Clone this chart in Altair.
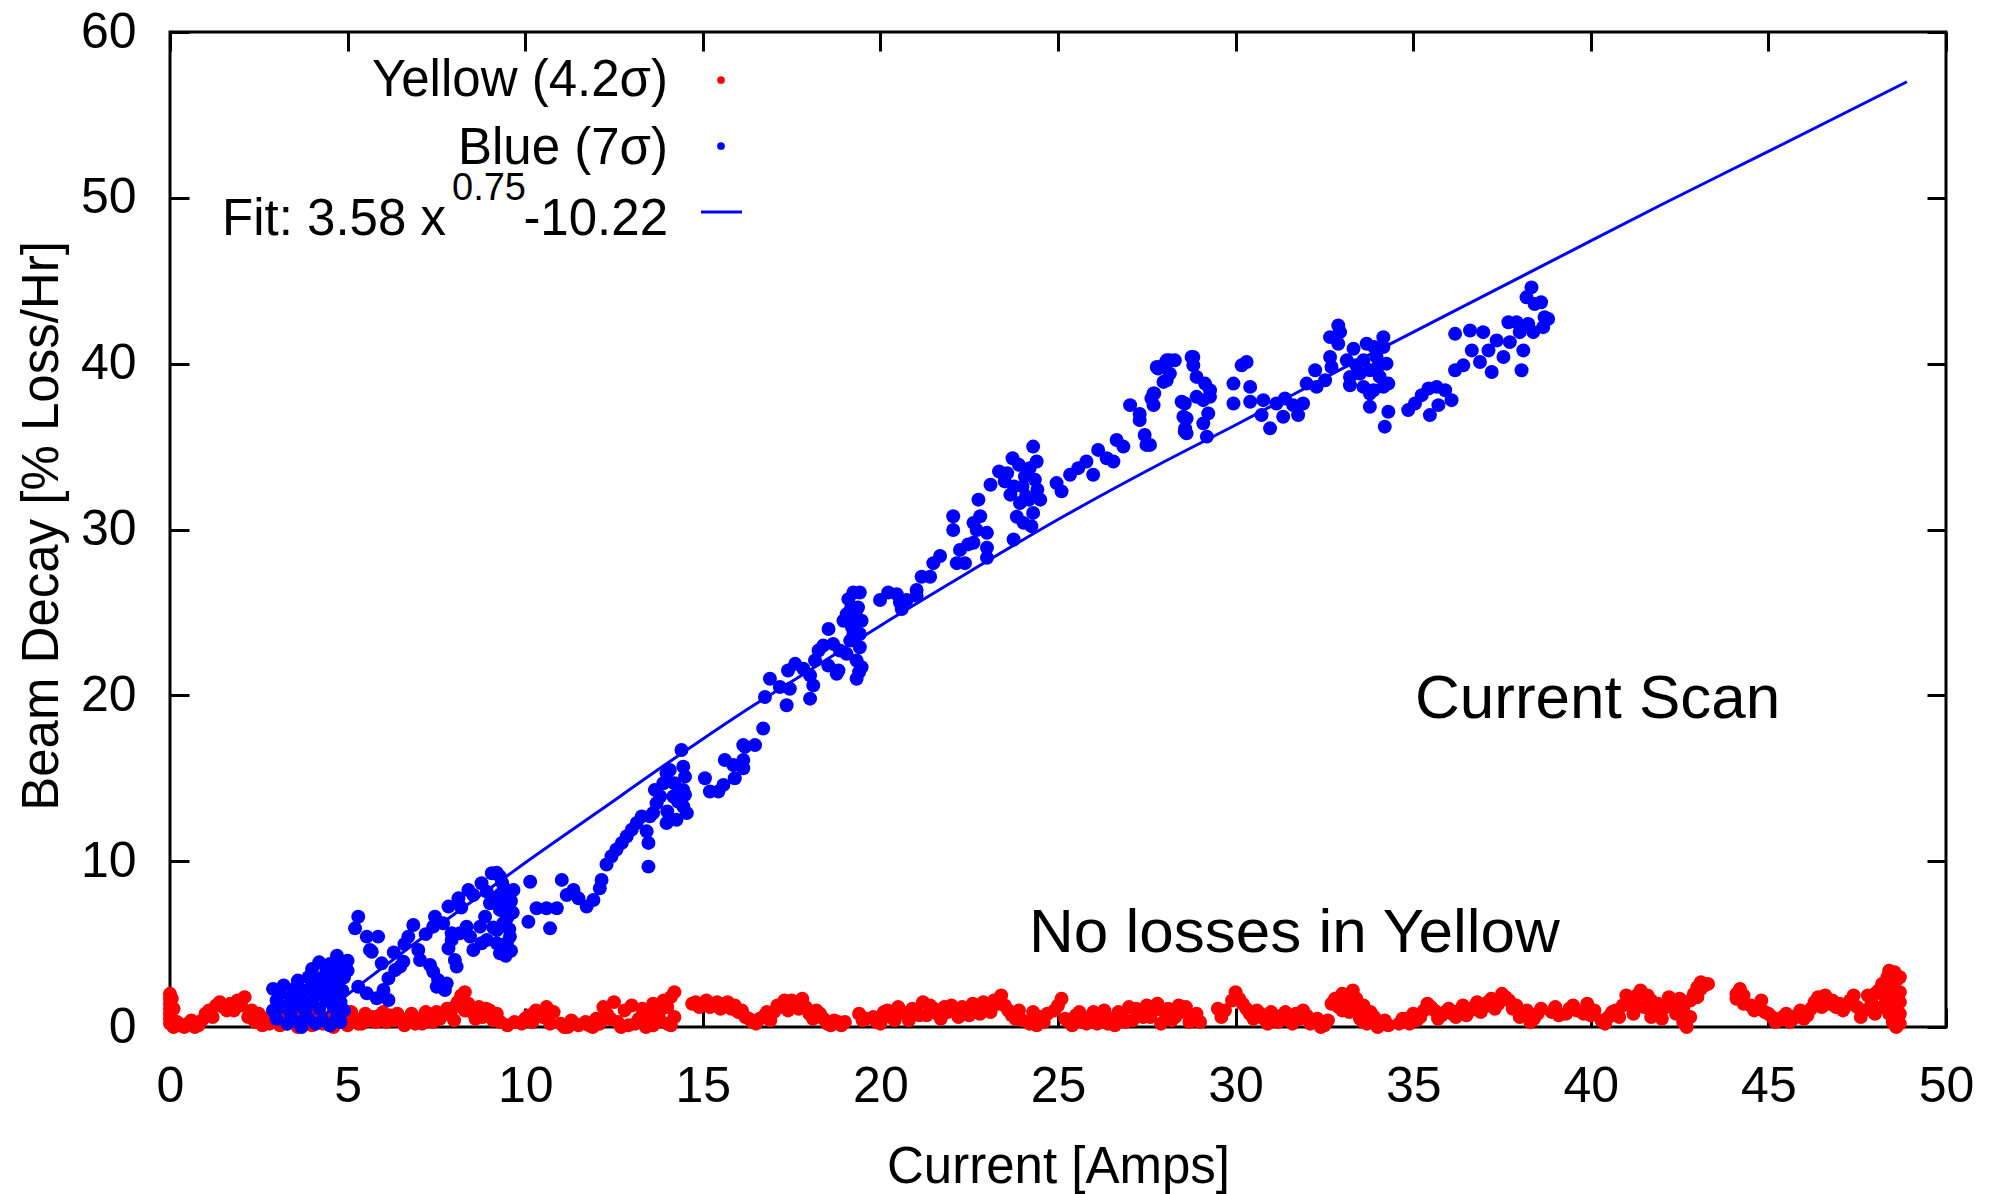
import altair as alt
import pandas as pd

W, H = 1776, 995
FONT = "Liberation Sans"

x_ticks = [0, 5, 10, 15, 20, 25, 30, 35, 40, 45, 50]
y_ticks = [0, 10, 20, 30, 40, 50, 60]

x_title = "Current [Amps]"
y_title = "Beam Decay [% Loss/Hr]"
legend_yellow = "Yellow (4.2σ)"
legend_blue = "Blue (7σ)"
legend_fit = ["Fit: 3.58 x", "0.75", "-10.22"]
note_scan = "Current Scan"
note_yellow = "No losses in Yellow"

# Yellow ring (drawn red): current, decay
red_pts = [
    (0.0, 0.2), (0.0, 0.8), (0.0, 1.4), (0.0, 2.0), (0.05, 1.7), (0.05, 0.5), (0.1, 1.1), (0.1, 0.0),
    (0.3, 0.1), (0.5, 0.2), (0.7, 0.0), (0.9, 0.4), (1.0, 0.8), (1.1, 1.0), (1.3, 1.3), (1.4, 1.5),
    (1.5, 1.2), (1.7, 1.4), (1.8, 1.0), (1.9, 1.6), (2.0, 1.3), (2.1, 1.8),
    (2.2, 0.6), (2.4, 0.3), (2.5, 0.8), (2.7, 0.5), (2.8, 0.2), (3.0, 0.4), (3.2, 0.7), (3.3, 0.2),
    (3.5, 0.5), (3.6, 0.0), (3.8, 0.3), (3.9, 0.8), (4.1, 0.5), (4.3, 0.2), (4.5, 0.6), (4.6, 0.0),
    (4.8, 0.3), (5.0, 0.1),
    (5.2, 0.5), (5.4, 0.2), (5.5, 0.8), (5.7, 0.6), (5.8, 0.3), (6.0, 0.9), (6.2, 0.7), (6.3, 0.4),
    (6.5, 0.5), (6.6, 0.1), (6.8, 0.8), (7.0, 0.5), (7.1, 0.2), (7.3, 0.6), (7.5, 0.9), (7.6, 0.5),
    (7.8, 1.1), (7.9, 0.7), (8.1, 1.5), (8.2, 1.9), (8.3, 2.1), (8.4, 1.4), (8.5, 0.9), (8.7, 1.2),
    (8.8, 0.6), (9.0, 1.0), (9.1, 0.4), (9.2, 0.8),
    (9.5, 0.1), (9.7, 0.3), (10.0, 0.5), (10.1, 0.7), (10.3, 1.0), (10.4, 0.8), (10.6, 1.2), (10.8, 0.9),
    (11.0, 0.2), (11.2, 0.0), (11.3, 0.4), (11.5, 0.1), (11.7, 0.3), (11.9, 0.0), (12.0, 0.5),
    (12.2, 1.2), (12.3, 0.8), (12.5, 1.5), (12.6, 0.3), (12.8, 1.0), (12.9, 0.1), (13.0, 1.3), (13.2, 0.5),
    (13.3, 1.1), (13.4, 0.0), (13.5, 0.8), (13.6, 1.4), (13.7, 0.3), (13.8, 1.0), (13.9, 1.6), (14.0, 0.2),
    (14.1, 1.8), (14.2, 2.1), (14.2, 0.6),
    (14.7, 1.4), (14.9, 1.2), (15.1, 1.6), (15.3, 1.3), (15.5, 1.1), (15.7, 1.5), (15.9, 1.3), (16.0, 0.9),
    (16.2, 0.6),
    (16.4, 0.3), (16.6, 0.5), (16.8, 0.9), (16.9, 0.4), (17.1, 1.3), (17.3, 1.6), (17.4, 1.0), (17.6, 1.4),
    (17.8, 1.7), (17.9, 1.2), (18.0, 0.8), (18.2, 1.0), (18.4, 0.5), (18.5, 0.2), (18.7, 0.4), (18.9, 0.1),
    (19.0, 0.3),
    (19.4, 0.8), (19.6, 0.5), (19.9, 0.3), (20.1, 0.9), (20.3, 0.6), (20.5, 1.2), (20.7, 0.8), (20.8, 0.4),
    (21.0, 1.0), (21.2, 1.5), (21.3, 0.7), (21.5, 1.1), (21.7, 0.5), (21.9, 0.9), (22.0, 1.3), (22.2, 0.6),
    (22.4, 1.0), (22.6, 1.4), (22.8, 0.8), (23.0, 1.2), (23.2, 1.6), (23.4, 1.9), (23.5, 1.3), (23.7, 0.7),
    (23.9, 1.0),
    (24.2, 0.2), (24.5, 0.6), (24.6, 0.3), (24.9, 1.0), (25.1, 1.7), (25.2, 0.5), (25.4, 0.1), (25.6, 0.9),
    (25.7, 0.3), (25.9, 0.6), (26.1, 0.2), (26.3, 1.0), (26.5, 0.5), (26.6, 0.1), (26.8, 0.7), (27.0, 1.2),
    (27.1, 0.4), (27.3, 0.9), (27.5, 1.3), (27.6, 0.6), (27.8, 1.4), (27.9, 0.2), (28.1, 1.1), (28.3, 0.6),
    (28.4, 1.3), (28.6, 1.2), (28.7, 0.3), (28.9, 0.8),
    (29.5, 1.1), (29.7, 1.0), (30.0, 2.1), (30.1, 1.7), (30.2, 1.4), (30.4, 0.8), (30.6, 1.0), (30.8, 0.5),
    (31.0, 0.9), (31.2, 0.3), (31.3, 0.7), (31.5, 0.4), (31.7, 0.8), (31.9, 1.0), (32.1, 0.2), (32.3, 0.5),
    (32.4, 0.0), (32.6, 0.4),
    (32.8, 1.7), (32.9, 1.2), (33.0, 2.0), (33.1, 1.5), (33.2, 0.9), (33.3, 2.2), (33.4, 1.0), (33.5, 0.5),
    (33.6, 1.3), (33.7, 0.2), (33.9, 0.6), (34.0, 0.0), (34.2, 0.4),
    (34.6, 0.2), (34.8, 0.5), (35.0, 0.8), (35.2, 0.6), (35.4, 1.4), (35.6, 1.0), (35.8, 0.7), (36.0, 1.1),
    (36.2, 0.6), (36.4, 1.3), (36.6, 1.0), (36.8, 1.5), (37.0, 1.2), (37.2, 1.7), (37.4, 1.4), (37.5, 2.0),
    (37.7, 1.6), (37.9, 1.3), (38.0, 0.6), (38.2, 1.0), (38.3, 0.3), (38.5, 0.8),
    (38.9, 0.9), (39.1, 0.7), (39.4, 1.1), (39.6, 1.0), (39.9, 1.4), (40.0, 0.7), (40.3, 0.4), (40.5, 0.6),
    (40.7, 1.0), (40.9, 1.3), (41.1, 1.6), (41.2, 0.8), (41.3, 1.9), (41.4, 2.2), (41.5, 1.2), (41.7, 1.6),
    (41.8, 0.9), (41.9, 1.4), (42.0, 0.5), (42.1, 1.2), (42.3, 1.5), (42.4, 0.8), (42.5, 1.7), (42.6, 0.3),
    (42.7, 0.0), (42.8, 1.6), (42.9, 2.0), (43.0, 2.4), (43.1, 2.7), (43.2, 2.5),
    (44.1, 2.0), (44.2, 2.3), (44.3, 1.4), (44.6, 1.0), (44.8, 1.6), (44.9, 0.9), (45.1, 0.6), (45.3, 0.4),
    (45.5, 0.8), (45.7, 0.5), (45.9, 1.0), (46.1, 0.7), (46.3, 1.5), (46.5, 1.2), (46.6, 1.9), (46.8, 1.6),
    (47.0, 1.4), (47.1, 1.0), (47.3, 1.6), (47.5, 1.2), (47.6, 0.6), (47.8, 1.9), (47.9, 1.4), (48.0, 0.8),
    (48.1, 2.2), (48.2, 2.6), (48.3, 1.8), (48.35, 3.0), (48.4, 3.4), (48.45, 2.4), (48.5, 1.2), (48.5, 0.3),
    (48.6, 2.8), (48.6, 0.0), (48.65, 1.6), (48.7, 2.1), (48.7, 0.8),
]

red_pts_more = [
    (0.0, 0.5), (0.0, 1.1), (0.0, 1.7), (0.2, 0.3), (0.4, 0.0), (0.6, 0.4), (0.8, 0.1), (1.2, 0.6),
    (1.6, 1.0), (2.3, 1.0), (2.6, 0.1), (2.9, 0.6), (3.1, 0.1), (3.4, 0.8), (3.7, 0.6), (4.0, 0.1),
    (4.2, 0.8), (4.4, 0.4), (4.7, 0.9), (4.9, 0.6),
    (5.1, 0.9), (5.3, 0.2), (5.6, 0.4), (5.9, 0.7), (6.1, 0.3), (6.4, 0.8), (6.7, 0.4), (6.9, 0.2),
    (7.2, 0.9), (7.4, 0.3), (7.7, 0.8), (8.0, 1.2), (8.0, 0.4), (8.3, 1.0), (8.6, 0.5), (8.9, 1.1),
    (9.3, 0.3),
    (9.9, 0.2), (10.2, 0.3), (10.5, 0.6), (10.7, 0.2), (11.1, 0.0), (11.4, 0.2), (11.8, 0.1), (12.1, 0.2),
    (12.4, 0.5), (12.7, 0.0), (13.1, 0.2), (13.3, 0.6), (13.6, 0.1), (13.8, 0.4), (14.0, 1.2), (14.1, 0.1),
    (14.8, 1.5), (15.0, 1.4), (15.2, 1.2), (15.4, 1.5), (15.6, 1.3), (15.8, 1.1), (16.1, 1.0), (16.3, 0.5),
    (16.5, 0.2), (16.7, 0.6), (17.0, 0.9), (17.2, 1.2), (17.5, 1.6), (17.7, 1.1), (18.1, 0.5), (18.3, 0.8),
    (18.6, 0.1), (18.8, 0.3),
    (19.5, 0.4), (19.8, 0.6), (20.0, 0.2), (20.2, 1.0), (20.4, 0.4), (20.6, 0.9), (20.9, 1.1), (21.1, 0.7),
    (21.4, 1.3), (21.6, 0.8), (21.8, 1.2), (22.1, 0.9), (22.3, 1.2), (22.5, 0.7), (22.7, 1.1), (22.9, 1.5),
    (23.1, 0.9), (23.3, 1.4), (23.6, 1.0), (23.8, 0.5),
    (24.0, 0.4), (24.3, 0.9), (24.4, 0.1), (24.7, 0.8), (25.0, 1.3), (25.3, 0.3), (25.5, 0.7), (25.8, 0.2),
    (26.0, 0.9), (26.2, 0.5), (26.4, 0.2), (26.7, 0.9), (26.9, 0.3), (27.2, 1.1), (27.4, 0.6), (27.7, 1.0),
    (28.0, 0.9), (28.2, 0.4), (28.5, 0.9), (28.8, 0.5), (29.0, 0.3),
    (29.6, 0.6), (29.9, 1.6), (30.3, 1.1), (30.5, 0.5), (30.7, 0.8), (30.9, 0.2), (31.1, 0.6), (31.4, 0.9),
    (31.6, 0.2), (31.8, 0.5), (32.0, 0.7), (32.2, 0.3), (32.5, 0.1),
    (32.7, 1.4), (33.0, 1.0), (33.1, 1.9), (33.2, 1.3), (33.4, 1.7), (33.5, 0.8), (33.6, 0.3), (33.8, 0.9),
    (34.1, 0.3), (34.3, 0.1),
    (34.7, 0.5), (34.9, 0.2), (35.1, 0.4), (35.3, 1.0), (35.5, 1.2), (35.7, 0.5), (35.9, 0.9), (36.1, 0.8),
    (36.3, 1.0), (36.5, 0.7), (36.7, 1.2), (36.9, 0.9), (37.1, 1.5), (37.3, 1.1), (37.6, 1.8), (37.8, 1.1),
    (38.1, 0.8), (38.4, 0.5), (38.6, 1.1),
    (39.0, 1.2), (39.3, 0.8), (39.5, 1.3), (39.8, 0.8), (40.1, 1.0), (40.4, 0.2), (40.6, 0.9), (40.8, 0.6),
    (41.0, 1.9), (41.2, 1.4), (41.6, 1.9), (41.7, 0.6), (42.0, 1.0), (42.2, 1.8), (42.4, 1.3), (42.6, 1.1),
    (42.8, 0.6), (43.0, 1.8), (43.1, 2.3), (43.3, 2.6),
    (44.1, 1.7), (44.3, 1.9), (44.5, 1.3), (44.7, 1.2), (45.0, 0.8), (45.2, 0.3), (45.4, 0.6), (45.6, 0.3),
    (45.8, 0.7), (46.0, 0.5), (46.2, 1.1), (46.4, 1.8), (46.7, 1.4), (46.9, 1.2), (47.2, 1.3), (47.4, 1.9),
    (47.7, 1.0), (47.9, 1.7), (48.0, 2.0), (48.2, 1.2), (48.3, 2.5), (48.4, 0.8), (48.5, 2.0), (48.55, 3.3),
    (48.6, 1.0), (48.7, 1.5), (48.7, 0.2), (48.7, 3.0),
]

# Blue ring: current, decay
blue_pts = [
    (2.9, 1.0), (2.9, 2.3), (3.0, 1.6), (3.0, 0.5), (3.1, 2.0), (3.2, 1.2), (3.2, 2.5), (3.3, 0.2),
    (3.4, 1.8), (3.4, 0.8), (3.5, 2.3), (3.5, 1.3), (3.6, 0.3), (3.6, 2.8), (3.7, 1.7), (3.7, 0.0),
    (3.8, 2.2), (3.8, 1.0), (3.9, 3.0), (3.9, 0.5), (4.0, 1.5), (4.0, 2.6), (4.0, 3.5), (4.1, 0.2),
    (4.1, 1.9), (4.2, 3.9), (4.2, 2.9), (4.2, 1.1), (4.3, 0.4), (4.3, 2.3), (4.4, 3.3), (4.4, 1.6),
    (4.5, 0.1), (4.5, 2.7), (4.5, 3.8), (4.6, 1.2), (4.6, 2.0), (4.6, 3.1), (4.7, 0.6), (4.7, 4.3),
    (4.7, 2.5), (4.8, 1.5), (4.8, 3.6), (4.8, 0.3), (4.85, 2.2), (4.9, 3.0), (4.9, 1.0), (5.0, 3.4),
    (5.0, 4.0),
    (5.3, 6.65), (5.21, 5.95), (5.54, 5.45), (5.86, 5.45), (5.63, 4.64), (5.68, 4.54),
    (5.3, 2.43), (5.54, 2.03), (5.82, 1.73), (6.15, 1.63), (6.01, 2.23), (6.15, 2.93), (6.34, 3.44),
    (6.57, 3.94), (5.96, 3.84), (6.48, 3.64),
    (6.71, 5.45), (6.85, 6.15), (7.46, 6.65), (7.41, 6.05), (7.69, 6.25), (7.84, 7.26), (8.12, 7.76),
    (8.4, 8.26), (8.77, 8.67), (9.06, 9.27), (9.29, 9.07), (8.54, 7.96), (8.92, 8.16),
    (7.93, 5.25), (8.16, 5.65), (8.35, 6.05), (8.45, 5.45), (8.73, 6.05), (8.87, 6.65), (9.01, 7.46),
    (8.92, 5.25), (9.2, 5.05), (9.29, 4.44), (9.48, 5.05), (9.38, 6.25), (9.52, 7.26), (9.48, 8.26),
    (9.67, 8.26), (9.57, 5.45), (9.29, 7.06), (9.38, 7.66), (9.2, 5.85), (8.77, 5.05), (8.54, 4.64),
    (6.99, 4.64), (7.04, 4.04), (7.32, 3.74), (7.41, 3.34), (7.55, 2.83), (7.51, 2.43), (7.79, 2.63),
    (7.74, 2.23), (8.07, 3.64), (8.02, 4.04), (7.84, 4.74), (7.93, 5.65),
    (9.1, 6.0), (9.15, 7.8), (9.3, 8.0), (9.4, 4.8), (9.5, 6.6), (9.55, 5.9), (9.6, 7.6), (9.65, 6.9),
    (9.2, 9.3), (9.35, 8.7), (9.45, 4.3), (9.6, 4.6), (6.6, 5.0), (6.3, 4.5), (7.2, 5.6), (8.2, 7.2),
    (10.14, 8.76), (10.09, 6.35), (10.32, 7.16), (10.6, 7.16), (10.89, 7.16), (10.7, 5.95), (11.03, 8.87),
    (11.17, 7.96), (11.36, 8.26), (11.5, 7.76), (11.73, 7.26), (11.92, 7.66), (12.1, 8.36), (12.15, 8.87),
    (12.29, 9.8), (12.43, 10.3), (12.57, 10.7), (12.72, 11.1), (12.86, 11.5), (13.0, 11.9), (13.14, 12.3),
    (13.28, 12.7), (13.47, 11.1), (13.47, 9.67), (13.42, 11.8), (13.51, 12.7),
    (13.65, 14.3), (13.8, 13.9), (13.98, 15.3), (14.07, 15.5), (14.17, 13.9), (14.4, 16.7), (14.45, 15.7),
    (14.5, 15.1), (14.45, 14.3), (14.45, 13.3), (14.26, 12.5), (13.98, 12.3), (14.55, 12.9), (13.7, 13.5),
    (13.89, 14.7), (14.2, 14.7), (14.3, 13.6), (14.0, 13.0), (14.5, 14.0), (13.6, 12.9),
    (15.06, 15.0), (15.2, 14.2), (15.44, 14.2), (15.58, 14.6), (15.62, 16.1), (15.86, 15.8), (15.9, 15.0),
    (16.14, 16.1), (16.14, 15.6), (16.19, 16.9),
    (16.14, 17.0), (16.47, 17.0), (16.7, 18.0),
    (16.75, 19.9), (16.89, 21.0), (17.17, 20.5), (17.36, 19.4), (17.45, 20.4), (17.6, 21.9), (17.4, 21.5),
    (17.83, 21.6), (18.02, 21.2), (18.11, 20.6), (18.02, 19.8), (18.16, 22.1), (18.26, 22.7), (18.39, 23.0),
    (18.53, 21.8), (18.54, 24.0), (18.67, 23.1), (18.77, 21.3), (18.86, 22.7),
    (19.1, 25.8), (19.24, 26.2), (19.42, 26.2), (19.05, 24.9), (19.33, 24.5), (18.96, 24.5), (19.24, 23.7),
    (19.42, 22.9), (19.33, 22.1), (19.47, 21.7), (19.33, 21.0), (19.15, 23.3), (19.42, 23.7), (19.05, 22.5),
    (18.82, 21.5), (19.37, 25.3), (19.18, 25.3), (19.47, 24.5), (19.3, 25.0), (19.2, 24.1), (19.4, 21.4),
    (19.99, 25.75), (20.22, 26.2), (20.46, 26.1), (20.6, 25.2), (20.74, 25.75), (20.55, 25.6), (21.02, 26.35),
    (21.02, 26.0), (21.16, 27.15), (21.4, 27.15), (21.49, 27.97), (21.68, 28.4), (22.15, 27.97), (22.38, 27.97),
    (22.24, 28.77), (22.47, 29.1), (22.62, 29.2), (22.71, 29.97), (22.05, 29.97), (22.05, 30.8), (22.62, 30.4),
    (22.81, 30.8), (22.76, 31.8), (23.0, 29.8), (23.0, 28.9), (23.0, 28.3), (23.75, 29.4),
    (23.1, 32.7), (23.34, 33.5), (23.72, 34.3), (24.3, 35.0), (24.2, 33.7), (23.57, 33.4), (23.76, 32.6),
    (24.0, 32.6), (24.18, 31.8), (24.42, 32.4), (23.93, 31.6), (23.84, 30.77), (24.03, 30.4), (24.3, 31.0),
    (24.5, 31.8), (24.07, 33.2), (23.66, 32.1), (24.35, 33.0), (24.1, 32.0), (23.9, 33.9), (24.4, 34.1),
    (23.5, 32.9), (24.25, 30.2),
    (24.96, 32.8), (25.1, 32.3), (25.34, 33.3), (25.57, 33.7), (25.8, 34.1), (25.99, 33.3), (26.13, 34.8),
    (26.37, 34.3), (26.56, 34.1), (26.65, 35.4), (26.84, 35.0), (27.03, 37.5), (27.3, 36.97), (27.3, 36.6),
    (27.44, 35.7), (27.49, 35.1), (27.63, 37.9), (27.71, 38.2), (27.82, 39.7), (27.96, 39.9), (28.15, 40.2),
    (28.06, 39.0), (28.48, 37.7), (28.53, 36.8), (28.58, 36.1), (28.62, 35.8), (28.81, 40.4), (28.9, 38.0),
    (27.78, 39.8), (28.06, 40.2), (28.29, 40.2), (28.15, 39.4), (27.97, 38.9), (28.76, 40.4), (28.81, 39.9),
    (28.9, 39.2), (29.14, 38.8), (29.28, 38.4), (29.28, 38.0), (29.09, 37.8), (29.23, 37.0), (29.09, 36.4),
    (29.19, 35.6), (28.57, 37.6), (28.62, 36.7), (28.57, 35.9), (27.69, 38.2), (27.69, 37.5), (27.59, 35.1),
    (30.17, 39.9), (30.31, 40.1), (29.94, 38.8), (30.41, 38.6), (29.94, 37.6), (30.41, 37.7),
    (30.78, 37.8), (30.73, 36.9), (30.97, 36.1), (31.15, 37.6), (31.39, 37.9), (31.34, 36.8), (31.62, 37.5),
    (31.76, 36.9), (31.9, 37.6),
    (32.0, 38.8), (32.24, 39.6), (32.28, 38.6), (32.52, 39.0), (32.7, 39.8), (32.66, 40.4), (32.66, 41.6),
    (32.89, 42.3), (32.94, 41.9), (32.89, 41.2),
    (33.13, 40.2), (33.32, 40.9), (33.69, 41.2), (34.16, 41.6), (34.16, 41.0), (34.25, 40.0), (34.06, 39.2),
    (33.78, 39.6), (33.5, 39.4), (33.22, 39.2), (33.6, 38.6), (33.88, 38.4), (34.16, 38.6), (34.3, 38.8),
    (33.78, 38.2), (33.22, 38.7), (33.78, 37.4), (34.3, 37.1), (34.2, 36.2), (33.97, 40.4), (33.6, 40.2),
    (33.4, 39.9), (34.0, 39.8), (33.9, 41.0),
    (34.86, 37.2), (35.05, 37.6), (35.24, 38.1), (35.43, 38.5), (35.66, 38.6), (35.9, 38.4), (36.08, 37.8),
    (35.71, 37.5), (35.47, 36.9),
    (36.18, 41.8), (36.18, 39.6), (36.41, 39.9), (36.6, 42.0), (36.65, 40.8), (36.88, 40.1), (36.97, 41.9),
    (37.12, 40.8), (37.21, 39.5), (37.35, 41.4), (37.54, 40.4), (37.68, 42.5), (37.72, 41.3), (37.91, 42.5),
    (38.0, 41.9), (38.1, 40.8), (38.05, 39.6), (38.24, 42.4), (38.19, 44.0), (38.33, 44.6), (38.42, 43.6),
    (38.6, 43.7), (38.7, 42.8), (38.8, 42.7), (38.66, 42.2), (38.38, 41.9),
]

# Fit curve as drawn
fit_x = [4.0, 5, 6, 8, 10, 12, 14, 16, 18, 20, 22, 25, 28, 30, 33, 36, 39, 42, 45, 48.9]
fit_y = [0.0, 1.95, 3.6, 6.8, 9.9, 12.9, 15.9, 18.8, 21.5, 24.2, 26.8, 30.6, 34.1, 36.3, 39.7, 43.0,
         46.3, 49.6, 52.8, 57.0]

red_df = pd.DataFrame(red_pts + red_pts_more, columns=["current", "decay"])
blue_df = pd.DataFrame(blue_pts, columns=["current", "decay"])
fit_df = pd.DataFrame({"current": fit_x, "decay": fit_y})
one = pd.DataFrame({"k": [0]})

xs = alt.Scale(domain=[0, 50], nice=False, zero=False)
ys = alt.Scale(domain=[0, 60], nice=False, zero=False)

TICK = 19
DOT = 195

ax_x_labels = alt.Axis(orient="bottom", values=x_ticks, ticks=False, tickSize=0, domain=False, grid=False,
                       labelFont=FONT, labelFontSize=50, labelColor="black", labelPadding=34,
                       labelFlush=False, labelOverlap=False,
                       title=x_title, titleFont=FONT, titleFontSize=51, titleFontWeight="normal",
                       titleColor="black", titleX=W / 2, titleY=155, titleAlign="center",
                       titleBaseline="alphabetic")
ax_y_labels = alt.Axis(orient="left", values=y_ticks, ticks=False, tickSize=0, domain=False, grid=False,
                       labelFont=FONT, labelFontSize=50, labelColor="black", labelPadding=34,
                       labelFlush=False, labelOverlap=False,
                       title=y_title, titleFont=FONT, titleFontSize=51, titleFontWeight="normal",
                       titleColor="black", titleX=-113, titleY=H / 2 - 4, titleAngle=270,
                       titleAlign="center", titleBaseline="alphabetic")


def tick_axis(orient, vals):
    return alt.Axis(orient=orient, values=vals, offset=-TICK, tickSize=TICK, tickWidth=3,
                    tickColor="black", labels=False, domain=False, grid=False, title=None)


red = alt.Chart(red_df).mark_circle(size=DOT, opacity=1, color="#ff0000").encode(
    x=alt.X("current:Q", scale=xs, axis=ax_x_labels),
    y=alt.Y("decay:Q", scale=ys, axis=ax_y_labels),
)
blue = alt.Chart(blue_df).mark_circle(size=DOT, opacity=1, color="#0000ff").encode(
    x=alt.X("current:Q", scale=xs, axis=tick_axis("top", x_ticks)),
    y=alt.Y("decay:Q", scale=ys, axis=tick_axis("right", y_ticks)),
)
fit = alt.Chart(fit_df).mark_line(color="#0000ff", strokeWidth=3, interpolate="monotone").encode(
    x=alt.X("current:Q", scale=xs, axis=tick_axis("bottom", x_ticks)),
    y=alt.Y("decay:Q", scale=ys, axis=tick_axis("left", y_ticks)),
)


def label(text, x, y, size=51, align="right"):
    return alt.Chart(one).mark_text(align=align, baseline="alphabetic", font=FONT, fontSize=size,
                                    color="black").encode(
        x=alt.value(x), y=alt.value(y), text=alt.value(text))


leg_red = alt.Chart(one).mark_circle(size=60, opacity=1, color="#ff0000").encode(
    x=alt.value(551), y=alt.value(48))
leg_blue = alt.Chart(one).mark_circle(size=60, opacity=1, color="#0000ff").encode(
    x=alt.value(551), y=alt.value(114))
leg_line = alt.Chart(one).mark_rule(color="#0000ff", strokeWidth=3).encode(
    x=alt.value(531), x2=alt.value(572), y=alt.value(180))

layers = [
    red, blue, fit,
    label(legend_yellow, 498, 64),
    label(legend_blue, 498, 132),
    label(legend_fit[2], 498, 203),
    label(legend_fit[1], 356, 168, size=38),
    label(legend_fit[0], 276, 203),
    leg_red, leg_blue, leg_line,
    label(note_scan, 1245, 686, size=62, align="left"),
    label(note_yellow, 859, 920, size=62, align="left"),
]

chart = alt.layer(*layers).resolve_axis(x="independent", y="independent").properties(
    width=W, height=H,
    padding={"left": 170, "top": 32, "right": 60, "bottom": 167},
    autosize=alt.AutoSizeParams(type="none"),
).configure(background="white").configure_view(stroke="black", strokeWidth=3)

chart.save("out.html", embed_options={"renderer": "svg", "actions": False})
